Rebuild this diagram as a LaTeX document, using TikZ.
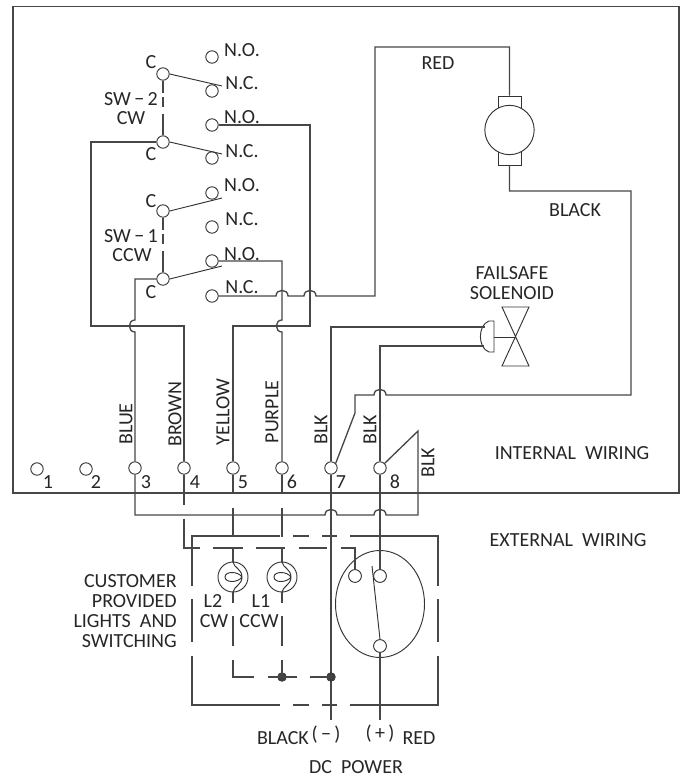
\documentclass[tikz,border=0pt]{standalone}
\usepackage{fontspec}
\setmainfont{Carlito}
\tikzset{
  x=0.75pt,y=-0.75pt,
  wire/.style={draw=black!72,line width=1pt},
  fine/.style={draw=black!80,line width=0.7pt},
  frame/.style={draw=black!72,line width=1.1pt},
  term/.style={circle,fine,fill=white,inner sep=0pt,minimum size=9.3pt},
  termbig/.style={circle,fine,fill=white,inner sep=0pt,minimum size=9.6pt},
  lamp/.style={circle,fine,inner sep=0pt,minimum size=22.5pt},
  motorc/.style={circle,fine,fill=white,inner sep=0pt,minimum size=37pt},
  brush/.style={rectangle,fine,inner sep=0pt,minimum width=17.25pt},
  dotc/.style={circle,draw=black!80,fill=black!75,inner sep=0pt,minimum size=6.6pt},
  lab/.style={font=\fontsize{15}{15}\selectfont,text=black!85,inner sep=0pt},
  labr/.style={lab,anchor=east},
  vlab/.style={lab,rotate=90},
}
\newcommand{\hopup}[2]{-- ({#1-6},#2) .. controls ({#1-6},{#2-7.5}) and ({#1+6},{#2-7.5}) .. ({#1+6},#2)}
\newcommand{\lampfil}[1]{\draw[fine,shift={(#1)}] (0,-15) .. controls (1,-9) and (9,-8) .. (9,0) .. controls (9,8) and (1,9) .. (0,15) (9,0) .. controls (5,-6) and (-8,-6) .. (-8,0) .. controls (-8,6) and (5,6) .. (9,0);}
\begin{document}
\begin{tikzpicture}
\useasboundingbox (0,0) rectangle (683,778);
% enclosure
\draw[frame] (13,6.5) rectangle (679,493);

% switch contacts
\node[term] (no1) at (212,57) {};
\node[term] (nc1) at (212,91) {};
\node[term] (no2) at (212,125) {};
\node[term] (nc2) at (212,158) {};
\node[term] (no3) at (212,193) {};
\node[term] (nc3) at (212,227) {};
\node[term] (no4) at (212,261) {};
\node[term] (nc4) at (212,296) {};
\node[term] (c1) at (163,74) {};
\node[term] (c2) at (163,142) {};
\node[term] (c3) at (163,211) {};
\node[term] (c4) at (163,279) {};
\coordinate (a1) at (222,86);
\coordinate (a2) at (222,154);
\coordinate (a3) at (222,198);
\coordinate (a4) at (222,266);
\draw[fine] (c1.east) -- (a1);
\draw[fine] (c2.east) -- (a2);
\draw[fine] (c3.east) -- (a3);
\draw[fine] (c4.east) -- (a4);
\draw[wire,dash pattern=on 9pt off 3.6pt on 7.5pt off 5pt on 16pt] (c1.south) -- (c2.north);
\draw[wire,dash pattern=on 9pt off 3.6pt on 7.5pt off 5pt on 16pt] (c3.south) -- (c4.north);

% terminals
\node[term] (t1) at (37,469) {};
\node[term] (t2) at (86,469) {};
\node[term] (t3) at (135,468) {};
\node[term] (t4) at (184,468) {};
\node[term] (t5) at (233,468) {};
\node[term] (t6) at (282,468) {};
\node[term] (t7) at (331,468) {};
\node[term] (t8) at (380,468) {};

% internal wiring
\draw[wire] (no2.east) -- (310,125) -- (310,326) -- (233,326) -- (t5.north);
\draw[wire] (c2.west) -- (91,142) -- (91,326) -- (184,326) -- (t4.north);
\draw[wire] (c4.west) -- (135,279) -- (135,320) .. controls (127.5,320) and (127.5,332) .. (135,332) -- (t3.north);
\draw[wire] (no4.east) -- (282,261) -- (282,320) .. controls (274.5,320) and (274.5,332) .. (282,332) -- (t6.north);

% motor
\node[brush,minimum height=10.5pt] (bt) at (509.5,103) {};
\node[brush,minimum height=11.25pt] (bb) at (509.5,157.5) {};
\node[motorc] (motor) at (509.5,130) {};
\draw[wire] (nc4.east) \hopup{282}{296} \hopup{310}{296} -- (375,296) -- (375,47) -- (509.5,47) -- (bt.north);
\draw[wire] (bb.south) -- (509.5,191) -- (631,191) -- (631,395) -- (386,395) .. controls (386,387.5) and (374,387.5) .. (374,395) -- (355,395) -- (355,413) -- (t7.north east);

% solenoid
\draw[fine] (494,352) -- (494,321) -- (489,321) .. controls (477.5,325) and (477.5,348) .. (489,352) -- cycle;
\coordinate (solc) at (515,337);
\draw[fine] (494,337) -- (solc);
\draw[fine] (502,307) -- (529,307) -- (502,366) -- (529,366) -- cycle;
\coordinate (sola) at (485,327);
\coordinate (solb) at (483.5,346);
\draw[wire] (t7.north) -- (331,327) -- (sola);
\draw[wire] (t8.north) -- (380,346) -- (solb);

% external wiring
\draw[wire] (t3.south) -- (135,515) \hopup{331}{515} \hopup{380}{515} -- (418,515) -- (418,431) -- (t8.north east);
\draw[frame] (192,586) -- (192,536) -- (280,536) (293,536) -- (309,536) (322,536) -- (337,536) (350,536) -- (438,536) -- (438,586)
  (438,599) -- (438,642) (438,656) -- (438,705) -- (350,705) (337,705) -- (322,705) (309,705) -- (293,705) (280,705) -- (192,705) -- (192,656)
  (192,642) -- (192,599);

\node[lamp] (l2) at (233,577) {};
\node[lamp] (l1) at (282,577) {};
\lampfil{233,577}
\lampfil{282,577}

\node[termbig] (swa) at (355,576) {};
\node[termbig] (swb) at (380,576) {};
\node[termbig] (swc) at (380,646) {};
\draw[fine] (380,604) ellipse [x radius=44.5,y radius=53.5];
\coordinate (swarm) at (372,566);
\draw[fine] (swarm) -- (swc.north);

\coordinate (endb) at (331,720);
\coordinate (endr) at (380,720);
\draw[wire] (t7.south) -- (endb);
\draw[wire] (t8.south) -- (swb.north);
\draw[wire] (swc.south) -- (endr);
\draw[wire,dash pattern=on 22.5pt off 10.5pt on 33.75pt off 9.75pt on 22.5pt off 9.75pt on 21.75pt off 10.5pt on 21pt off 10.5pt on 27.75pt] (t4.south) -- (184,548) -- (355,548) -- (swa.north);
\draw[wire,dash pattern=on 14.25pt off 10.5pt on 21.75pt off 9pt on 10.5pt] (t5.south) -- (l2.north);
\draw[wire,dash pattern=on 14.25pt off 10.5pt on 21.75pt off 9pt on 10.5pt] (t6.south) -- (l1.north);
\node[dotc] (dp) at (282,677) {};
\node[dotc] (dq) at (331,677) {};
\draw[wire,dash pattern=on 8.25pt off 9.75pt on 22.5pt off 10.5pt on 28.5pt off 10.5pt on 21.75pt off 9.75pt on 15.75pt] (l2.south) -- (233,677) -- (dq.center);
\draw[wire,dash pattern=on 8.25pt off 9.75pt on 22.5pt off 10.5pt on 12.75pt] (l1.south) -- (dp.center);

% contact labels
\node[lab] at (242,50) {N.O.};
\node[lab] at (242,83) {N.C.};
\node[lab] at (242,117) {N.O.};
\node[lab] at (242,151) {N.C.};
\node[lab] at (242,185) {N.O.};
\node[lab] at (242,219) {N.C.};
\node[lab] at (242,254) {N.O.};
\node[lab] at (242,287) {N.C.};
\node[lab] at (151,62) {C};
\node[lab] at (151,154) {C};
\node[lab] at (151,201) {C};
\node[lab] at (151,292) {C};
\node[lab] at (131,99.5) {SW\,−\,2};
\node[lab] at (131,118) {CW};
\node[lab] at (131,236.5) {SW\,−\,1};
\node[lab] at (132,255) {CCW};
\node[lab] at (438,63) {RED};
\node[lab] at (575,210) {BLACK};
\node[lab] at (512,273) {FAILSAFE};
\node[lab] at (512,293) {SOLENOID};
\node[lab] at (572,453) {INTERNAL\ \ WIRING};
\node[lab] at (568,540) {EXTERNAL\ \ WIRING};

% wire colour labels
\node[vlab] at (126,424) {BLUE};
\node[vlab] at (175,414) {BROWN};
\node[vlab] at (223,412) {YELLOW};
\node[vlab] at (272,412) {PURPLE};
\node[vlab] at (321,430) {BLK};
\node[vlab] at (370,430) {BLK};
\node[vlab] at (428,463) {BLK};

% terminal numbers
\node[lab] at (48,482) {1};
\node[lab] at (96,482) {2};
\node[lab] at (146,482) {3};
\node[lab] at (195,482) {4};
\node[lab] at (243,482) {5};
\node[lab] at (292,482) {6};
\node[lab] at (341,482) {7};
\node[lab] at (395,482) {8};

% external labels
\node[labr] at (177,581) {CUSTOMER};
\node[labr] at (177,601) {PROVIDED};
\node[labr] at (177,621) {LIGHTS\ \ AND};
\node[labr] at (177,641) {SWITCHING};
\node[lab] at (213,601) {L2};
\node[lab] at (214,621) {CW};
\node[lab] at (261,601) {L1};
\node[lab] at (259,621) {CCW};
\node[lab] at (283,738) {BLACK};
\node[lab] at (326,735) {(\,−\,)};
\node[lab] at (380,734) {(\,+\,)};
\node[lab] at (419,738) {RED};
\node[lab] at (356,767) {DC\ \ POWER};
\end{tikzpicture}
\end{document}
